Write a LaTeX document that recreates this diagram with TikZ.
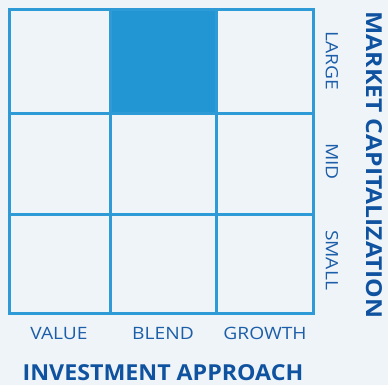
\documentclass[tikz,border=0pt]{standalone}
\usepackage{fontspec}
\setmainfont{Open Sans}
\usetikzlibrary{positioning}
\definecolor{bgblue}{HTML}{EFF4F9}
\definecolor{gridblue}{HTML}{2E9AD6}
\definecolor{fillblue}{HTML}{2196D3}
\definecolor{textblue}{HTML}{1C5EA8}
\definecolor{titleblue}{HTML}{0F529F}
\tikzset{
    gridline/.style={draw=gridblue, line width=3pt}, % lines of the style box
    axisLabel/.style={text=textblue, inner sep=0pt, font=\fontsize{17}{17}\selectfont\addfontfeature{FakeStretch=1.13}}, % size and style names
    axisTitle/.style={text=titleblue, inner sep=0pt, font=\fontsize{22}{22}\selectfont\bfseries\addfontfeature{FakeStretch=#1}}, % the two axis titles
    axisTitle/.default=1.06,
}
\begin{document}
\begin{tikzpicture}[
                                x=1pt, y=-1pt,
                                sideways/.style={rotate=-90},
                            ]
                            \fill[bgblue] (0,0) rectangle (388,385);
                            \useasboundingbox (0,0) rectangle (388,385);
                            % grid corners
                            \coordinate (c00) at (9,10);
                            \coordinate (c33) at (313.5,313);
                            \fill[fillblue] (110,10) rectangle (216.5,113.5);
                            \draw[gridline]
                            (c00) rectangle (c33)
                            (110,10) -- (110,313)
                            (216.5,10) -- (216.5,313)
                            (9,113.5) -- (313.5,113.5)
                            (9,214) -- (313.5,214);
                            \node[axisLabel] (value) at (59,333) {VALUE};
                            \node[axisLabel] (blend) at (163,333) {BLEND};
                            \node[axisLabel] (growth) at (265,333) {GROWTH};
                            \node[axisTitle=1.055] (approach) at (163,373) {INVESTMENT APPROACH};
                            \node[axisLabel, sideways] (large) at (332,60.5) {LARGE};
                            \node[axisLabel, sideways] (mid) at (332,161.5) {MID};
                            \node[axisLabel, sideways] (small) at (332,260) {SMALL};
                            \node[axisTitle=1.12, sideways] (cap) at (374,165) {MARKET CAPITALIZATION};
                        \end{tikzpicture}
\end{document}
